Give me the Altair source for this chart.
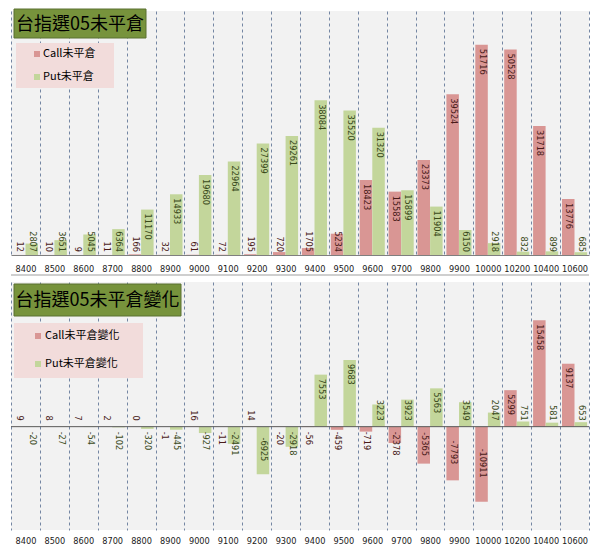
import altair as alt
import pandas as pd

strikes = ["8400", "8500", "8600", "8700", "8800", "8900", "9000", "9100", "9200", "9300",
           "9400", "9500", "9600", "9700", "9800", "9900", "10000", "10200", "10400", "10600"]
series = ["Call", "Put"]
call_oi = [12, 10, 9, 11, 166, 32, 61, 72, 195, 720, 1705, 5234, 18423, 15583, 23373,
           39524, 51716, 50528, 31718, 13776]
put_oi = [2807, 3651, 5045, 6364, 11170, 14933, 19680, 22964, 27399, 29261, 38084, 35520,
          31320, 15899, 11904, 6150, 2918, 832, 899, 685]
call_chg = [9, 8, 7, 2, 0, -1, 16, -11, 14, -20, -56, -459, -719, -2378, -5365, -7793,
            -10911, 5299, 15458, 9137]
put_chg = [-20, -27, -54, -102, -320, -445, -927, -2491, -6925, -2918, 7553, 9683, 3223,
           3923, 5563, 3549, 2047, 751, 581, 653]

title_top = "台指選05未平倉"
title_bot = "台指選05未平倉變化"
legend_top = ["Call未平倉", "Put未平倉"]
legend_bot = ["Call未平倉變化", "Put未平倉變化"]

BAR_COLORS = ["#d99694", "#c3d69b"]
LABEL_COLORS = ["#4a1c1a", "#3a4a1a"]
OFFSETS = [-6.3, 6.3]
BAR_W = 12.5
W = 578
CJK = "Noto Sans CJK TC"
NUM = "DejaVu Sans"
CHAR_W = 5.2


def long_df(calls, puts):
    rows = []
    for s, c, p in zip(strikes, calls, puts):
        rows.append({"strike": s, "series": "Call", "v": c})
        rows.append({"strike": s, "series": "Put", "v": p})
    return pd.DataFrame(rows)


def one(val):
    return alt.Chart(pd.DataFrame({"t": [val]}))


def panel(df, title, legend, height, domain, gap, label_pad, has_domain, box, leg_box, items, zero_line):
    K = height / (domain[1] - domain[0])
    ysc = alt.Scale(domain=domain, nice=False, zero=False)
    xenc = alt.X("strike:N", sort=strikes, scale=alt.Scale(paddingInner=0, paddingOuter=0),
                 axis=alt.Axis(title=None, labelAngle=0, ticks=False, grid=True, tickBand="extent",
                               gridDash=[3, 3], gridColor="#7486a3", gridWidth=1,
                               domain=has_domain, domainColor="#7f7f7f",
                               labelPadding=label_pad, labelFont=NUM, labelFontSize=8.2,
                               labelColor="#1a1a1a"))
    base = alt.Chart(df)
    pos = f"max(datum.v - 4/{K}, ({gap} + length(datum.lab)*{CHAR_W})/{K})"
    neg = f"-max(5, (abs(datum.v)*{K} - length(datum.lab)*{CHAR_W})/2)/{K}"
    layers = []
    for s, col, off in zip(series, BAR_COLORS, OFFSETS):
        layers.append(base.transform_filter(alt.datum.series == s).mark_bar(
            color=col, width=BAR_W, xOffset=off).encode(
            x=xenc, y=alt.Y("v:Q", scale=ysc, axis=None)))
    if zero_line:
        layers.append(one(0).mark_rule(color="#595959", strokeWidth=1).encode(
            y=alt.Y("t:Q", scale=ysc, axis=None), x=alt.value(0), x2=alt.value(W)))
        layers.append(one(0).mark_rule(color="#bfbfbf", strokeWidth=1.5).encode(
            y=alt.value(-7), x=alt.value(0), x2=alt.value(W)))
    for s, lc, off in zip(series, LABEL_COLORS, OFFSETS):
        layers.append(base.transform_filter(
            alt.datum.series == s
        ).transform_calculate(
            lab="'' + datum.v"
        ).transform_calculate(
            a=f"datum.v >= 0 ? {pos} : {neg}",
        ).mark_text(angle=90, align="left", baseline="middle", font=NUM, fontSize=8.2,
                    color=lc, xOffset=off).encode(
            x=xenc, y=alt.Y("a:Q", scale=ysc, axis=None), text="lab:N"))
    # title box
    bx0, bx1, by0, by1 = box
    layers.append(one(title).mark_rect(fill="#77933c", stroke="#5a7030", strokeWidth=1).encode(
        x=alt.value(bx0), x2=alt.value(bx1), y=alt.value(by0), y2=alt.value(by1)))
    layers.append(one(title).mark_text(font=CJK, fontSize=18, color="#000000", align="center",
                                       baseline="middle").encode(
        x=alt.value((bx0 + bx1) / 2), y=alt.value((by0 + by1) / 2 + 1), text="t:N"))
    # legend box
    lx0, lx1, ly0, ly1 = leg_box
    layers.append(one(0).mark_rect(fill="#f2dcdb").encode(
        x=alt.value(lx0), x2=alt.value(lx1), y=alt.value(ly0), y2=alt.value(ly1)))
    mx, tx, ys = items
    for lab, col, yy in zip(legend, BAR_COLORS, ys):
        layers.append(one(lab).mark_square(size=36, color=col, opacity=1).encode(
            x=alt.value(mx), y=alt.value(yy)))
        layers.append(one(lab).mark_text(font=CJK, fontSize=11, color="#000000", align="left",
                                         baseline="middle").encode(
            x=alt.value(tx), y=alt.value(yy), text="t:N"))
    return alt.layer(*layers).properties(width=W, height=height)


top = panel(long_df(call_oi, put_oi), title_top, legend_top, 244, [0, 60000], 3, 10, True,
            (3, 135, -2, 27), (5, 103, 32, 77), (26, 32, [43, 66]), False)
bot = panel(long_df(call_chg, put_chg), title_bot, legend_bot, 248, [-15000, 21000], 6, 7.5, False,
            (3, 170, 2, 34), (3, 132, 41, 96), (27, 34, [54, 82]), True)

chart = alt.vconcat(top, bot, spacing=27, bounds="flush").properties(
    padding={"left": 2, "top": 0, "right": 0, "bottom": 0}
).configure_view(fill="#f2f2f2", stroke=None)

chart.save("out.html", embed_options={"renderer": "svg", "actions": False})
